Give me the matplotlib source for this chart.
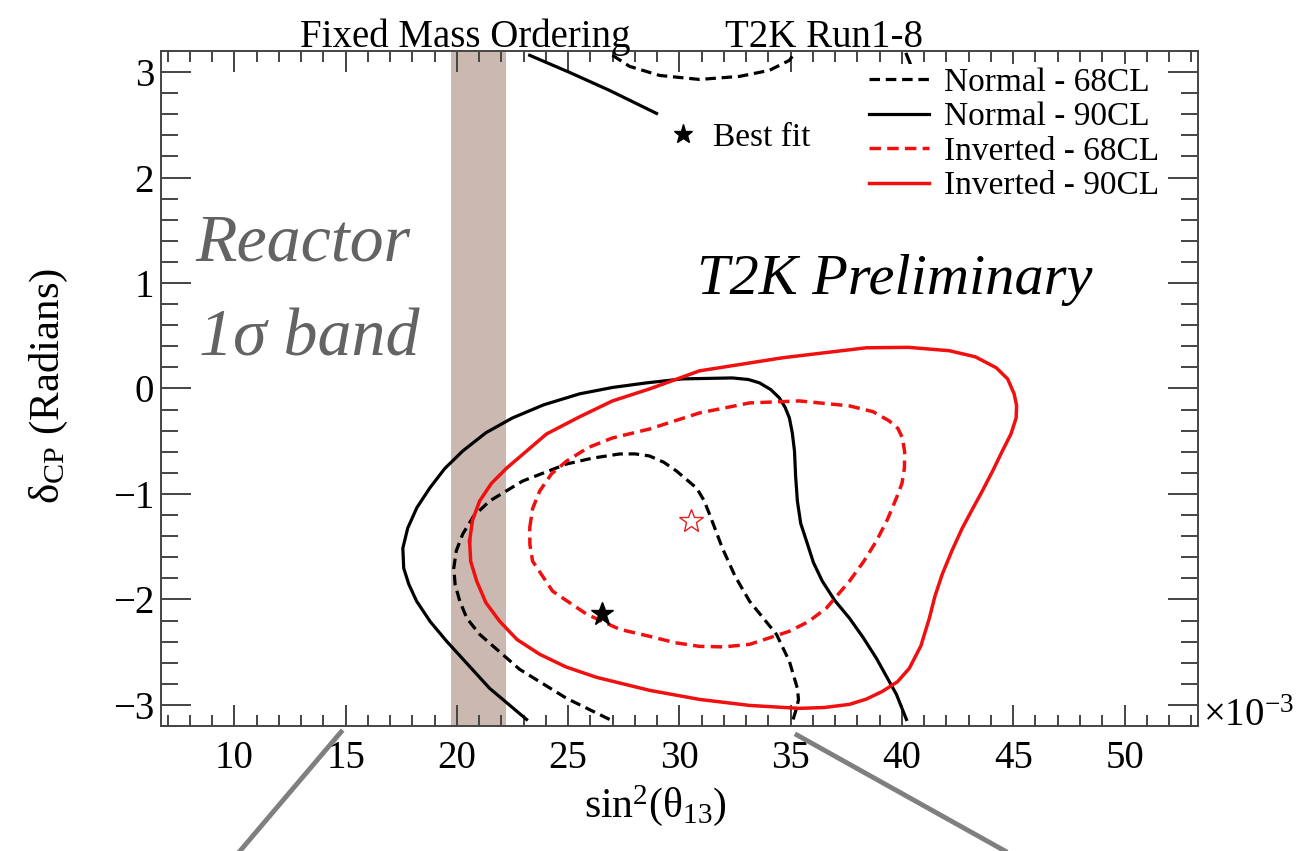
import matplotlib
matplotlib.use("Agg")
import matplotlib.pyplot as plt
from matplotlib.lines import Line2D
from matplotlib.ticker import MultipleLocator

plt.rcParams['font.family'] = ['Liberation Serif', 'DejaVu Sans']
plt.rcParams['mathtext.fontset'] = 'custom'
plt.rcParams['mathtext.rm'] = 'Liberation Serif'
plt.rcParams['mathtext.it'] = 'Liberation Serif:italic'
plt.rcParams['mathtext.bf'] = 'Liberation Serif:bold'

# contours in (sin^2 theta13 x 1e3, delta_cp)
# normal ordering 90% CL: main branch + pieces wrapped over the top edge
n90_x = [23.13, 21.47, 19.54, 18.80, 18.19, 17.84, 17.61, 17.57, 17.79, 18.20, 18.78, 19.45,
         20.26, 21.30, 22.50, 23.90, 25.51, 27.00, 28.52, 30.14, 32.38, 33.10, 33.60, 34.10,
         34.49, 34.75, 34.94, 35.07, 35.17, 35.22, 35.30, 35.45, 35.71, 36.02, 36.42, 36.98,
         37.64, 38.25, 38.85, 39.75, 40.20]
n90_y = [-3.138, -2.843, -2.397, -2.210, -2.017, -1.857, -1.704, -1.514, -1.324, -1.130, -0.944, -0.760,
         -0.593, -0.420, -0.279, -0.155, -0.051, 0.010, 0.053, 0.091, 0.100, 0.085, 0.053, -0.010,
         -0.089, -0.180, -0.279, -0.420, -0.593, -0.830, -1.068, -1.280, -1.447, -1.650, -1.827, -2.010,
         -2.178, -2.360, -2.558, -2.900, -3.138]
n90_top_x = [23.27, 25.06, 26.86, 28.97]
n90_top_y = [3.159, 2.997, 2.826, 2.608]
n90_top2_x = [40.20, 40.42]
n90_top2_y = [3.168, 3.054]

# normal ordering 68% CL
n68_x = [26.86, 24.93, 22.82, 21.02, 20.45, 20.13, 19.92, 19.86, 19.97, 20.26, 20.75, 21.47,
         22.95, 24.93, 26.10, 27.31, 28.00, 28.66, 29.30, 29.87, 30.77, 31.10, 31.35, 31.93,
         32.50, 33.15, 34.36, 34.94, 35.30, 35.35, 35.26, 35.08]
n68_y = [-3.138, -2.938, -2.663, -2.331, -2.180, -2.017, -1.860, -1.704, -1.540, -1.381, -1.210, -1.067,
         -0.878, -0.716, -0.660, -0.621, -0.620, -0.640, -0.700, -0.783, -0.944, -1.060, -1.191, -1.514,
         -1.780, -2.017, -2.331, -2.587, -2.843, -2.950, -3.033, -3.157]
n68_top_x = [26.99, 27.76, 29.11, 30.90, 32.70, 34.04, 34.94, 35.17]
n68_top_y = [3.159, 3.054, 2.968, 2.930, 2.959, 3.016, 3.111, 3.178]

# inverted ordering 90% CL (closed)
i90_x = [20.57, 20.70, 21.02, 21.55, 22.24, 24.03, 25.50, 26.99, 28.66, 30.90, 34.63, 38.40,
         40.30, 42.13, 43.30, 44.24, 44.75, 45.04, 45.15, 45.13, 44.90, 44.51, 44.08, 43.61,
         43.15, 42.71, 42.24, 41.81, 41.48, 41.23, 40.85, 40.33, 39.80, 39.12, 38.40, 37.64,
         36.50, 35.39, 33.15, 30.90, 28.66, 26.28, 24.90, 23.72, 22.70, 21.92, 21.30, 20.89,
         20.62, 20.57]
i90_y = [-1.447, -1.250, -1.067, -0.900, -0.754, -0.431, -0.270, -0.118, -0.004, 0.167, 0.291, 0.386,
         0.390, 0.358, 0.300, 0.196, 0.090, -0.051, -0.160, -0.279, -0.430, -0.593, -0.780, -0.972,
         -1.150, -1.324, -1.540, -1.761, -1.970, -2.178, -2.440, -2.653, -2.780, -2.872, -2.945, -2.995,
         -3.025, -3.033, -3.005, -2.948, -2.862, -2.739, -2.640, -2.520, -2.380, -2.207, -2.030, -1.827,
         -1.640, -1.447]

# inverted ordering 68% CL (closed)
i68_x = [23.27, 23.40, 23.72, 24.25, 24.93, 25.90, 26.99, 28.66, 30.90, 33.15, 35.39, 37.64,
         38.70, 39.43, 39.82, 40.02, 40.12, 40.11, 40.00, 39.75, 39.35, 38.85, 38.28, 37.64,
         36.60, 35.80, 34.94, 33.15, 32.00, 30.90, 29.80, 28.66, 27.31, 25.83, 24.30, 23.40,
         23.28, 23.27]
i68_y = [-1.324, -1.140, -0.972, -0.810, -0.688, -0.560, -0.469, -0.384, -0.232, -0.137, -0.118, -0.165,
         -0.220, -0.308, -0.380, -0.469, -0.600, -0.754, -0.900, -1.039, -1.240, -1.447, -1.640, -1.827,
         -2.083, -2.210, -2.302, -2.426, -2.450, -2.445, -2.410, -2.350, -2.283, -2.140, -1.922, -1.637,
         -1.480, -1.324]

best_normal = (26.5, -2.14)
best_inverted = (30.54, -1.26)
reactor_band = (19.75, 22.2)

fig = plt.figure(figsize=(13, 8.51), dpi=100)
ax = fig.add_axes([0.1238, 0.1469, 0.7977, 0.7932])

ax.axvspan(reactor_band[0], reactor_band[1], color='#cbb9b1', lw=0, zorder=0)

dash = (0, (3.3, 1.8))
lw = 2.3
red = '#f01010'
kw = dict(solid_joinstyle='round', dash_joinstyle='round')
ax.plot(n68_x, n68_y, color='black', ls=dash, lw=lw, label='Normal - 68CL', **kw)
ax.plot(n68_top_x, n68_top_y, color='black', ls=dash, lw=lw, **kw)
ax.plot(n90_x, n90_y, color='black', lw=lw, label='Normal - 90CL', **kw)
ax.plot(n90_top_x, n90_top_y, color='black', lw=lw, **kw)
ax.plot(n90_top2_x, n90_top2_y, color='black', lw=lw, **kw)
ax.plot(i68_x, i68_y, color=red, ls=dash, lw=lw + 0.2, label='Inverted - 68CL', **kw)
ax.plot(i90_x, i90_y, color=red, lw=lw + 0.2, label='Inverted - 90CL', **kw)

ax.plot(*best_normal, marker='*', ms=17, color='black', ls='none')
ax.plot(*best_inverted, marker='*', ms=18, mfc='none', mec='#e02020', mew=1.0, ls='none')

ax.set_xlim(6.7, 53.3)
ax.set_ylim(-3.2, 3.2)
ax.xaxis.set_major_locator(MultipleLocator(5))
ax.xaxis.set_minor_locator(MultipleLocator(1))
ax.yaxis.set_major_locator(MultipleLocator(1))
ax.yaxis.set_minor_locator(MultipleLocator(0.2))

axis_col = '#444444'
for s in ax.spines.values():
    s.set_linewidth(1.4)
    s.set_color(axis_col)
ax.tick_params(axis='x', which='both', direction='in', top=True, width=1.4, color=axis_col,
               labelsize=28, pad=10)
ax.tick_params(axis='x', which='major', length=15)
ax.tick_params(axis='x', which='minor', length=8)
ax.tick_params(axis='y', which='both', direction='in', right=True, width=1.4, color=axis_col,
               labelsize=28, pad=5)
ax.tick_params(axis='y', which='major', length=21.6)
ax.tick_params(axis='y', which='minor', length=12)

ax.set_xlabel(r'sin$^{2}$(θ$_{13}$)', fontsize=30)
ax.xaxis.set_label_coords(0.477, -0.085)
ax.set_ylabel(r'δ$_{\rm CP}$ (Radians)', fontsize=31)
ax.yaxis.set_label_coords(-0.088, 0.504)

fig.text(1203 / 1300, 1 - 726 / 851, r'×10$^{-3}$', fontsize=28, va='baseline')
fig.text(300 / 1300, 1 - 47 / 851, 'Fixed Mass Ordering', fontsize=28, va='baseline')
fig.text(725 / 1300, 1 - 47 / 851, 'T2K Run1-8', fontsize=28, va='baseline')

ax.text(8.23, 1.211, 'Reactor', fontsize=49, style='italic', color='#636363')
ax.text(8.40, 0.309, '1σ band', fontsize=49, style='italic', color='#636363')
ax.text(30.81, 0.895, 'T2K Preliminary', fontsize=42, style='italic', color='black')

leg = ax.legend(loc='upper left', bbox_to_anchor=(866 / 1300, 1 - 64 / 851),
                bbox_transform=fig.transFigure, fontsize=24, frameon=True, fancybox=False,
                edgecolor='none', facecolor='white', framealpha=1, handlelength=1.8,
                handletextpad=0.45, labelspacing=0.12, borderpad=0.1, borderaxespad=0)
ax.add_artist(leg)
best = Line2D([], [], marker='*', color='black', ls='none', ms=14)
ax.legend([best], ['Best fit'], loc='upper left', bbox_to_anchor=(670 / 1300, 1 - 122 / 851),
          bbox_transform=fig.transFigure, fontsize=24, frameon=False, handlelength=0.8,
          handletextpad=0.5, borderpad=0, borderaxespad=0)

# callout lines below the axis
fig.add_artist(Line2D([341 / 1300, 240 / 1300], [1 - 732 / 851, 0], transform=fig.transFigure,
                      color='#7f7f7f', lw=3.5))
fig.add_artist(Line2D([797 / 1300, 1005 / 1300], [1 - 735 / 851, 0], transform=fig.transFigure,
                      color='#7f7f7f', lw=3.5))

fig.savefig('out.png', dpi=100)
